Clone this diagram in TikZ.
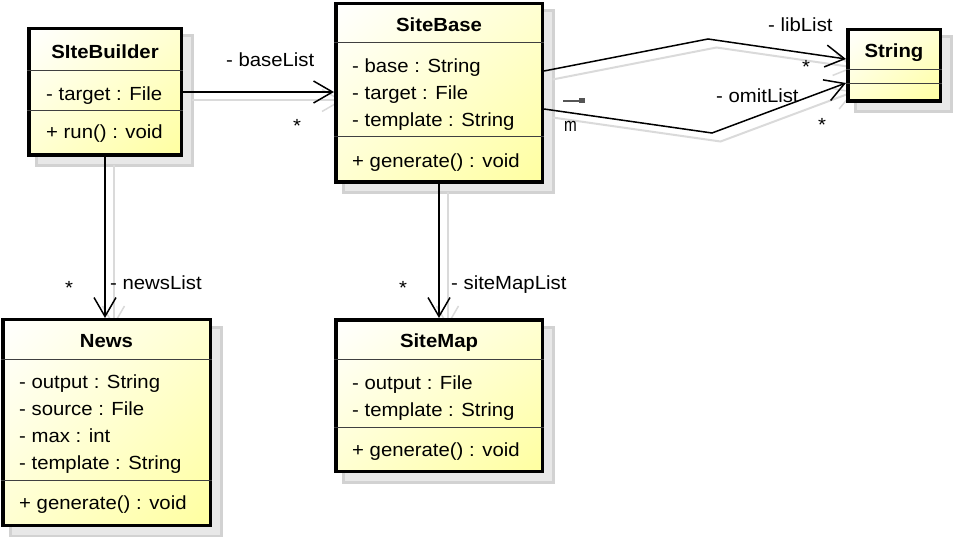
\documentclass[tikz,border=0pt]{standalone}
\usepackage{fontspec}
\setmainfont{Liberation Sans}[FakeStretch=1.07]
\usetikzlibrary{arrows.meta,calc,backgrounds,shadings}
\definecolor{yhi}{RGB}{255,255,160}
\definecolor{ymid}{RGB}{255,255,210}
\definecolor{shfill}{RGB}{232,232,232}
\definecolor{shdraw}{RGB}{210,210,210}
\definecolor{lineshadow}{RGB}{218,218,218}
\definecolor{markgray}{RGB}{85,85,85}
\tikzset{
  cls/.style={draw=black, line width=3.5pt, rectangle, inner sep=0pt,
    upper left=white, upper right=ymid, lower left=ymid, lower right=yhi},
  boxshadow/.style={fill=shfill, draw=shdraw, line width=3pt},
  divider/.style={draw=black!75, line width=1pt},
  txt/.style={anchor=base west, inner sep=0pt},
  ttl/.style={anchor=base, inner sep=0pt, font={\fontsize{19}{23}\selectfont\bfseries}},
  lbl/.style={anchor=base west, inner sep=0pt},
  mult/.style={anchor=base, inner sep=0pt},
  assoc/.style={draw=black, line width=1.5pt, -{Straight Barb[length=19pt, width=22pt, line width=1.5pt]}},
  assocshadow/.style={assoc, draw=lineshadow, line width=2pt, transform canvas={xshift=8.5pt, yshift=-8.5pt}},
}
\begin{document}
\begin{tikzpicture}[x=1pt, y=-1pt, font=\fontsize{19}{23}\selectfont]
\useasboundingbox (0,0) rectangle (953,537);

% class boxes
\node[cls, minimum width=152.5pt, minimum height=126.5pt] (sb) at (105,92) {};
\node[cls, minimum width=206.5pt, minimum height=178.5pt] (base) at (439,93) {};
\node[cls, minimum width=92.5pt, minimum height=71.5pt] (str) at (894,65.5) {};
\node[cls, minimum width=207.5pt, minimum height=205.5pt] (news) at (106.5,422.5) {};
\node[cls, minimum width=206.5pt, minimum height=151.5pt] (smap) at (439,395.5) {};

% dividers
\draw[divider] (sb.west |- 0,71) -- (sb.east |- 0,71);
\draw[divider] (sb.west |- 0,111) -- (sb.east |- 0,111);
\draw[divider] (base.west |- 0,43) -- (base.east |- 0,43);
\draw[divider] (base.west |- 0,137) -- (base.east |- 0,137);
\draw[divider] (str.west |- 0,70) -- (str.east |- 0,70);
\draw[divider] (str.west |- 0,84) -- (str.east |- 0,84);
\draw[divider] (news.west |- 0,359) -- (news.east |- 0,359);
\draw[divider] (news.west |- 0,480) -- (news.east |- 0,480);
\draw[divider] (smap.west |- 0,359) -- (smap.east |- 0,359);
\draw[divider] (smap.west |- 0,427) -- (smap.east |- 0,427);

% texts
\node[ttl] (sbT) at (105,58.5) {SIteBuilder};
\node[txt] (sbA1) at (46,101) {- target : File};
\node[txt] (sbM1) at (46,139) {+ run() : void};

\node[ttl] (baseT) at (439,31.5) {SiteBase};
\node[txt] (baseA1) at (352,73) {- base : String};
\node[txt] (baseA2) at (352,100) {- target : File};
\node[txt] (baseA3) at (352,126.5) {- template : String};
\node[txt] (baseM1) at (352,167.5) {+ generate() : void};

\node[ttl] (strT) at (894,58) {String};

\node[ttl] (newsT) at (106.5,347.5) {News};
\node[txt] (newsA1) at (19,388.5) {- output : String};
\node[txt] (newsA2) at (19,415.5) {- source : File};
\node[txt] (newsA3) at (19,442.5) {- max : int};
\node[txt] (newsA4) at (19,469) {- template : String};
\node[txt] (newsM1) at (19,509) {+ generate() : void};

\node[ttl] (smapT) at (439,347.5) {SiteMap};
\node[txt] (smapA1) at (352,389) {- output : File};
\node[txt] (smapA2) at (352,416) {- template : String};
\node[txt] (smapM1) at (352,456) {+ generate() : void};

% bend points
\coordinate (libBend) at (708,39);
\coordinate (omitBend) at (712,133);
\coordinate (libStart) at ($(base.east)+(0,-22)$);
\coordinate (libEnd) at ($(str.west)+(0,-6.5)$);
\coordinate (omitStart) at ($(base.east)+(0,16)$);
\coordinate (omitEnd) at ($(str.west)+(0,17.5)$);

% shadows
\begin{scope}[on background layer]
  \foreach \n in {sb,base,str,news,smap}{
    \draw[boxshadow] ($(\n.north west)+(9,9)$) rectangle ($(\n.south east)+(9,9)$);
  }
  \draw[assocshadow] (sb.east) -- (sb.east -| base.west);
  \draw[assocshadow] (sb.south) -- (sb.south |- news.north);
  \draw[assocshadow] (base.south) -- (smap.north);
  \draw[assocshadow] (libStart) -- (libBend) -- (libEnd);
  \draw[assocshadow] (omitStart) -- (omitBend) -- (omitEnd);
\end{scope}

% connectors
\draw[assoc] (sb.east) -- (sb.east -| base.west);
\draw[assoc] (sb.south) -- (sb.south |- news.north);
\draw[assoc] (base.south) -- (smap.north);
\draw[assoc] (libStart) -- (libBend) -- (libEnd);
\draw[assoc] (omitStart) -- (omitBend) -- (omitEnd);

% labels
\node[lbl] (lBase) at (226,67) {- baseList};
\node[mult] (mBase) at (297,133) {*};
\node[lbl] (lNews) at (110,289.5) {- newsList};
\node[mult] (mNews) at (69,294.5) {*};
\node[lbl] (lMap) at (451,290) {- siteMapList};
\node[mult] (mMap) at (403,295) {*};
\node[lbl] (lLib) at (768,31.5) {- libList};
\node[mult] (mLib) at (806,74) {*};
\node[lbl] (lOmit) at (716,103) {- omitList};
\node[mult] (mOmit) at (822,132) {*};

% stray marks
\draw[markgray, line width=1.5pt] (563,101) -- (581,101);
\fill[markgray] (579,98.5) rectangle (585,103.5);
\node[lbl] (mm) at (564,132) {\scalebox{0.75}[1]{m}};
\end{tikzpicture}
\end{document}
